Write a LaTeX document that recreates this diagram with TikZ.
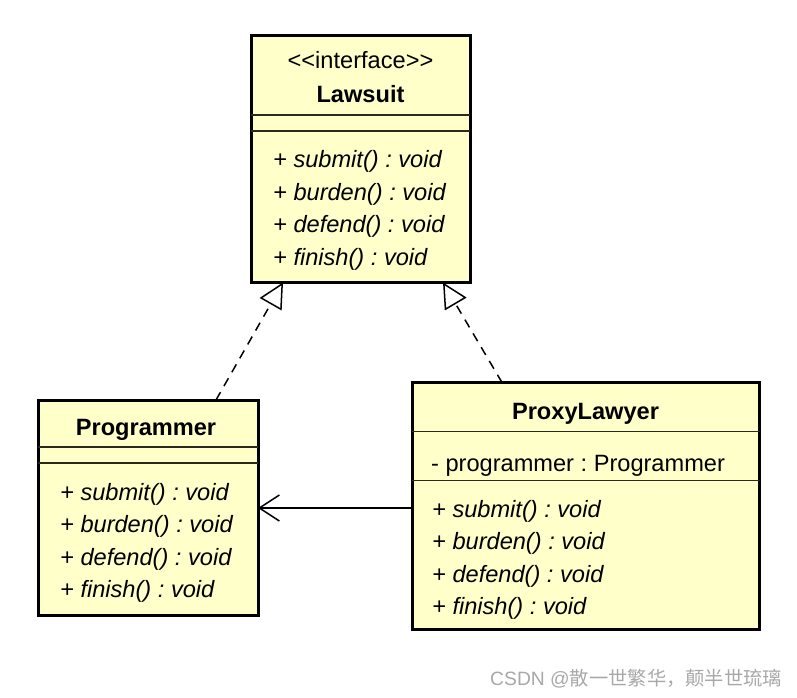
\documentclass[tikz,border=0pt]{standalone}
\usepackage{fontspec}
\setmainfont{Liberation Sans}
\newfontfamily\cjkfont{Noto Sans CJK SC}
\usetikzlibrary{arrows.meta,calc}
\definecolor{umlfill}{HTML}{FFFFCA}
\definecolor{sepcol}{HTML}{2A2A1C}
\definecolor{wmgray}{HTML}{A8A8A8}
\newcommand\umlfont{\fontsize{23.6}{27}\selectfont\frenchspacing}
\tikzset{
  umlbox/.style={draw=black, line width=3pt, fill=umlfill, inner sep=0pt, outer sep=0pt, rectangle, anchor=north west},
  sepline/.style={line width=1.3pt, draw=sepcol},
  member/.style={anchor=base west, inner sep=0pt, font=\umlfont},
  opitem/.style={anchor=base west, inner sep=0pt, font=\umlfont\itshape},
  clsname/.style={anchor=base, inner sep=0pt, font=\umlfont\bfseries},
  stereo/.style={anchor=base, inner sep=0pt, font=\umlfont},
  realize/.style={line width=1.5pt, dash pattern=on 9pt off 7pt, -{Triangle[open,length=25pt,width=25pt,fill=white,line width=1.5pt]}},
  assoc/.style={line width=1.5pt, -{Straight Barb[length=20pt,width=26pt,line width=1.5pt]}}
}
\begin{document}
\begin{tikzpicture}[x=1pt,y=-1pt]
\useasboundingbox (0,0) rectangle (797,697);

% Lawsuit
\node[umlbox, minimum width=219pt, minimum height=247pt] (law) at (251,35.5) {};
\draw[sepline] ($(law.north west)+(0,79.5)$) -- ($(law.north east)+(0,79.5)$);
\draw[sepline] ($(law.north west)+(0,95.5)$) -- ($(law.north east)+(0,95.5)$);
\node[stereo] (lawst) at (360.5,68.5) {<{}<interface>{}>};
\node[clsname] (lawnm) at (360.5,102.5) {Lawsuit};
\node[opitem] (law1) at (273,167.5) {+ submit() : void};
\node[opitem] (law2) at (273,200) {+ burden() : void};
\node[opitem] (law3) at (273,232.5) {+ defend() : void};
\node[opitem] (law4) at (273,265) {+ finish() : void};

% Programmer
\node[umlbox, minimum width=220pt, minimum height=215pt] (prog) at (38,400) {};
\draw[sepline] ($(prog.north west)+(0,47)$) -- ($(prog.north east)+(0,47)$);
\draw[sepline] ($(prog.north west)+(0,63)$) -- ($(prog.north east)+(0,63)$);
\node[clsname] (prognm) at (146,435) {Programmer};
\node[opitem] (prog1) at (60,500) {+ submit() : void};
\node[opitem] (prog2) at (60,532.5) {+ burden() : void};
\node[opitem] (prog3) at (60,565) {+ defend() : void};
\node[opitem] (prog4) at (60,597.5) {+ finish() : void};

% ProxyLawyer
\node[umlbox, minimum width=347.5pt, minimum height=246.5pt] (proxy) at (412,382.5) {};
\draw[sepline] ($(proxy.north west)+(0,49)$) -- ($(proxy.north east)+(0,49)$);
\draw[sepline] ($(proxy.north west)+(0,98)$) -- ($(proxy.north east)+(0,98)$);
\node[clsname] (proxynm) at (585.5,419) {ProxyLawyer};
\node[member] (proxyat) at (431,471) {- programmer : Programmer};
\node[opitem] (proxy1) at (432,517) {+ submit() : void};
\node[opitem] (proxy2) at (432,549.5) {+ burden() : void};
\node[opitem] (proxy3) at (432,582) {+ defend() : void};
\node[opitem] (proxy4) at (432,614.5) {+ finish() : void};

% connectors
\draw[realize] ($(prog.north west)+(178,0)$) -- ($(law.south west)+(32,0)$);
\draw[realize] ($(proxy.north west)+(90,0)$) -- ($(law.south west)+(192,0)$);
\draw[assoc] ($(proxy.north west)+(0,125.5)$) -- ($(prog.north east)+(0,108)$);

% watermark
\node[anchor=base west, inner sep=0pt, text=wmgray, font=\fontsize{19.3}{19.3}\selectfont] (wm) at (490,685) {CSDN @{\cjkfont 散一世繁华，颠半世琉璃}};
\end{tikzpicture}
\end{document}
